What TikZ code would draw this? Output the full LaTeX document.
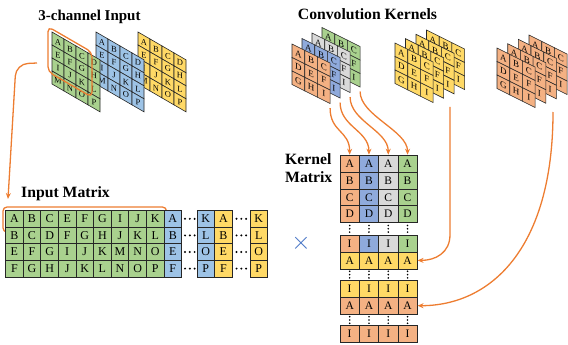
\documentclass[tikz,border=0pt]{standalone}
\usepackage{fontspec}
\setmainfont{Liberation Serif}
\usetikzlibrary{arrows.meta}
\definecolor{ingreen}{HTML}{A9D18E}
\definecolor{inblue}{HTML}{9DC3E6}
\definecolor{inyellow}{HTML}{FFD966}
\definecolor{korange}{HTML}{F4B183}
\definecolor{kblue}{HTML}{8FAADC}
\definecolor{kgray}{HTML}{D9D9D9}
\definecolor{kgreen}{HTML}{A9D18E}
\definecolor{kyellow}{HTML}{FFD966}
\definecolor{linkorange}{HTML}{ED7D31}
\definecolor{crossblue}{HTML}{4472C4}

\begin{document}
\begin{tikzpicture}[x=1pt,y=-1pt,
    head/.style={font=\bfseries\fontsize{15.7}{17}\selectfont,inner sep=0pt},
    ipcell/.style={draw=black!85,line width=0.6pt,inner sep=0pt,
      minimum width=12pt,minimum height=13pt},
    iptext/.style={inner sep=0pt,font=\fontsize{8.5}{8.5}\selectfont},
    kpcell/.style={draw=black!85,line width=0.6pt,inner sep=0pt,
      minimum width=12.7pt,minimum height=13.5pt,font=\fontsize{9}{9}\selectfont},
    mcell/.style={draw=black!85,line width=0.7pt,inner sep=0pt,
      minimum width=17.6pt,minimum height=16.6pt,font=\fontsize{12}{12}\selectfont},
    kcell/.style={draw=black!85,line width=0.7pt,inner sep=0pt,
      minimum width=19.3pt,minimum height=16.9pt,font=\fontsize{11.5}{11.5}\selectfont},
    link/.style={draw=linkorange,line width=1.3pt,
      -{Stealth[length=6pt,width=5pt]}}]
  \useasboundingbox (0,0) rectangle (568,345);

  % titles
  \node[head,font=\bfseries\fontsize{15}{17}\selectfont,anchor=base] (tin) at (89.5,20.5) {3-channel Input};
  \node[head,anchor=base] (tker) at (367.5,20) {Convolution Kernels};
  \node[head,anchor=base] (tmat) at (65.5,197.5) {Input Matrix};
  \node[head,anchor=base west] (tkm1) at (285,164) {Kernel};
  \node[head,anchor=base west] (tkm2) at (285,182.5) {Matrix};

  % input channels (yellow behind, green in front)
  \foreach \px/\col [count=\n] in {138/inyellow,96/inblue,52/ingreen} {
    \begin{scope}[shift={(\px,32)},yslant=-0.58,transform shape]
      \foreach \i in {0,...,15} {
        \pgfmathtruncatemacro\c{mod(\i,4)}
        \pgfmathtruncatemacro\r{div(\i,4)}
        \node[ipcell,fill=\col] (ip\n-\i) at (\c*12+6,\r*13+6.5) {};
      }
    \end{scope}
    % letters, less slanted than the cells
    \begin{scope}[shift={(\px,32)},yslant=-0.22,transform shape]
      \foreach \l [count=\i from 0] in {A,...,P} {
        \pgfmathtruncatemacro\c{mod(\i,4)}
        \pgfmathtruncatemacro\r{div(\i,4)}
        \node[iptext] (il\n-\i) at (\c*12+6,\r*13+6.5+0.36*\c*12+0.36*6) {\l};
      }
    \end{scope}
  }
  % window on the green channel
  \begin{scope}[shift={(52,32)},yslant=-0.58]
    \draw[linkorange,line width=1.3pt,rounded corners=5pt]
      (-4,-3) -- (40,-3) -- (40,42) -- (-4,42) -- cycle;
  \end{scope}
  \coordinate (instart) at (37,63);
  \coordinate (inend) at (8,199);
  \draw[link,rounded corners=12pt] (instart) -- (16,64) -- (inend);

  % input matrix
  \draw[linkorange,line width=1.3pt,rounded corners=4pt] (3,207) rectangle (166.5,232);
  \foreach \gl/\fl/\ll [count=\r from 0] in {{A,B,C,E,F,G,I,J,K}/A/K,
      {B,C,D,F,G,H,J,K,L}/B/L,{E,F,G,I,J,K,M,N,O}/E/O,{F,G,H,J,K,L,N,O,P}/F/P} {
    \foreach \l [count=\c from 0] in \gl
      \node[mcell,fill=ingreen] (m\r-\c) at (14.4+\c*17.6,218.8+\r*16.6) {\l};
    \node[mcell,fill=inblue] (mb\r) at (172.8,218.8+\r*16.6) {\fl};
    \node[mcell,fill=inblue] (mbk\r) at (205.8,218.8+\r*16.6) {\ll};
    \node[mcell,fill=inyellow] (my\r) at (223.4,218.8+\r*16.6) {\fl};
    \node[mcell,fill=inyellow] (myk\r) at (258.8,218.8+\r*16.6) {\ll};
    \foreach \d in {0,1,2} {
      \fill (185+\d*4.8,218.8+\r*16.6) circle (1.1);
      \fill (236.5+\d*4.8,218.8+\r*16.6) circle (1.1);
    }
  }

  % multiplication sign
  \node[text=crossblue,font=\fontsize{28}{28}\selectfont] (times) at (301,243) {$\times$};

  % convolution kernels (back to front)
  \foreach \px/\py/\col [count=\n] in {322/27.5/kgreen,312/33/kgray,302/38.5/kblue,292/44/korange,
      426.5/30/kyellow,416/34.3/kyellow,405.5/38.7/kyellow,395/43/kyellow,
      529/35/korange,518.3/39.3/korange,507.7/43.7/korange,497/48/korange} {
    \begin{scope}[shift={(\px,\py)},yslant=-0.5,transform shape]
      \foreach \l [count=\i from 0] in {A,...,I} {
        \pgfmathtruncatemacro\c{mod(\i,3)}
        \pgfmathtruncatemacro\r{div(\i,3)}
        \node[kpcell,fill=\col] (kp\n-\i) at (\c*12.7+6.35,\r*13.5+6.75) {\l};
      }
      \coordinate (kp\n) at (38.1,45);
    \end{scope}
  }
  \coordinate (kyel) at (450,107);
  \coordinate (kora) at (553,112);

  % kernel matrix
  \foreach \y/\l/\ca/\cb/\cc/\cd [count=\r] in {
      163.5/A/korange/kblue/kgray/kgreen,180.4/B/korange/kblue/kgray/kgreen,
      197.3/C/korange/kblue/kgray/kgreen,214.2/D/korange/kblue/kgray/kgreen,
      243.5/I/korange/kblue/kgray/kgreen,260.4/A/kyellow/kyellow/kyellow/kyellow,
      288.8/I/kyellow/kyellow/kyellow/kyellow,305.7/A/korange/korange/korange/korange,
      334.2/I/korange/korange/korange/korange} {
    \foreach \c [count=\k] in {\ca,\cb,\cc,\cd}
      \node[kcell,fill=\c] (k\r\k) at (330.35+\k*19.3,\y) {\l};
  }
  \foreach \y in {228.8,274.6,320} {
    \foreach \k in {1,...,4} {
      \foreach \d in {-3.3,0,3.3}
        \fill (330.35+\k*19.3,\y+\d) circle (0.9);
    }
  }

  % kernels to matrix
  \foreach \n/\k in {4/1,3/2,2/3,1/4}
    \draw[link] (kp\n) .. controls +(0,24) and +(0,-24) .. (k1\k.north);
  \draw[link] (kyel) -- (kyel |- k51.north) .. controls +(0,18) and +(18,0) .. (k64.east);
  \draw[link] (kora) .. controls +(0,138) and +(72,0) .. (k84.east);
\end{tikzpicture}
\end{document}
